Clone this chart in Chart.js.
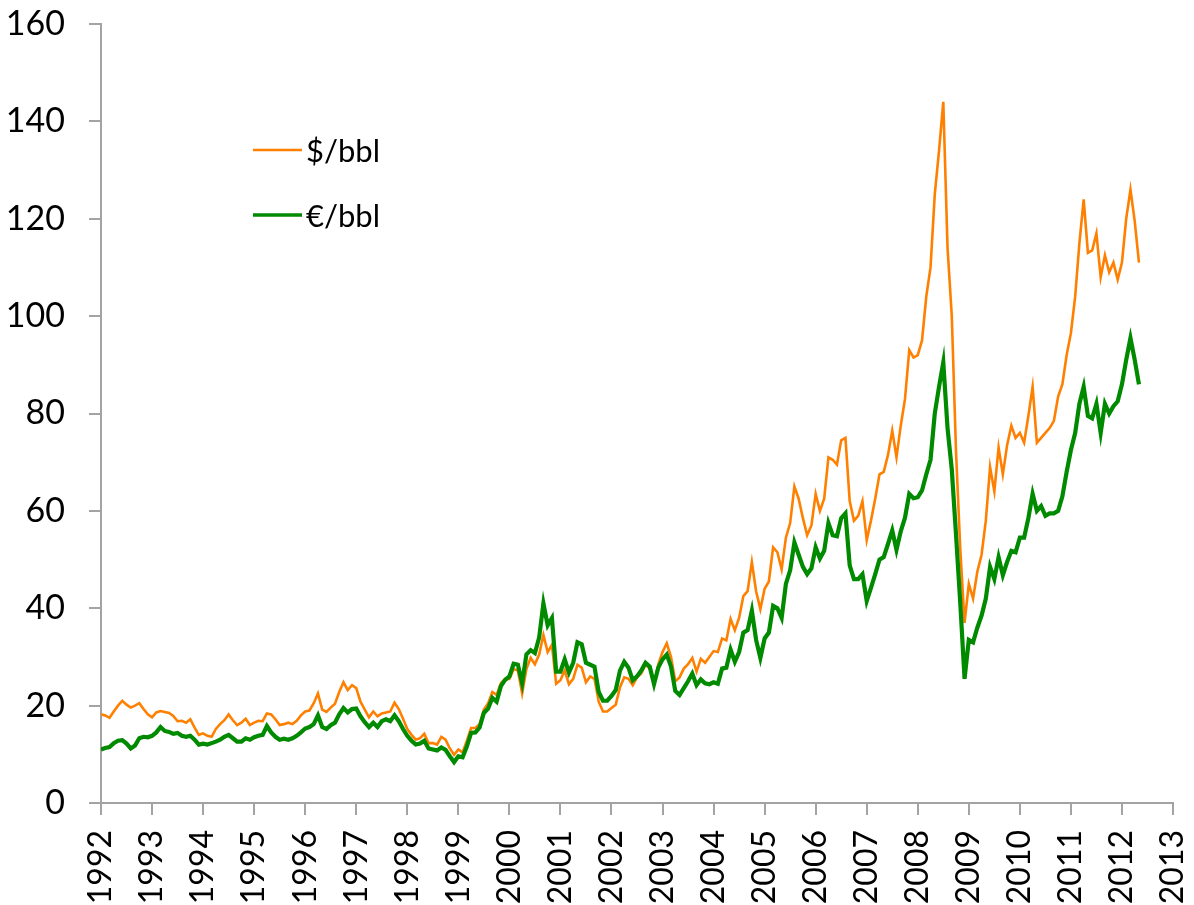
<!DOCTYPE html>
<html>
<head>
<meta charset="utf-8">
<title>Brent $/bbl and €/bbl</title>
<script src="https://cdn.jsdelivr.net/npm/chart.js@4.4.1/dist/chart.umd.min.js"></script>
<style>
  html, body { margin: 0; padding: 0; background: #fff; }
  #wrap { width: 1194px; height: 905px; position: relative; }
</style>
</head>
<body>
<div id="wrap"><canvas id="chart"></canvas></div>
<script>
// monthly readings, Jan 1992 .. May 2012
const startYear = 1992;
const yearTicks = [1992, 1993, 1994, 1995, 1996, 1997, 1998, 1999, 2000, 2001, 2002,
  2003, 2004, 2005, 2006, 2007, 2008, 2009, 2010, 2011, 2012, 2013];
const valueTicks = [0, 20, 40, 60, 80, 100, 120, 140, 160];

const usdPerBbl = [
  18.2, 18.0, 17.5, 18.8, 20.0, 21.0, 20.2, 19.6, 20.0, 20.5, 19.3, 18.2, // 1992
  17.6, 18.6, 18.9, 18.7, 18.5, 17.9, 16.8, 16.9, 16.5, 17.2, 15.5, 14.0, // 1993
  14.3, 13.8, 13.6, 15.2, 16.2, 17.0, 18.2, 17.0, 16.0, 16.5, 17.3, 16.0, // 1994
  16.5, 16.9, 16.8, 18.4, 18.2, 17.2, 16.0, 16.2, 16.5, 16.2, 16.9, 18.0, // 1995
  18.8, 19.0, 20.5, 22.5, 19.2, 18.7, 19.6, 20.4, 22.8, 24.8, 23.2, 24.2, // 1996
  23.6, 20.8, 19.2, 17.6, 18.8, 17.8, 18.4, 18.6, 18.8, 20.6, 19.3, 17.3, // 1997
  15.2, 14.0, 13.0, 13.3, 14.2, 12.3, 12.3, 12.0, 13.6, 13.0, 11.2, 9.9,  // 1998
  11.0, 10.4, 12.8, 15.4, 15.4, 16.2, 19.2, 20.5, 22.8, 22.2, 24.6, 25.5, // 1999
  25.5, 27.5, 27.2, 22.5, 27.5, 29.8, 28.5, 30.5, 34.5, 31.0, 32.5, 24.5, // 2000
  25.2, 27.2, 24.4, 25.5, 28.4, 27.8, 24.8, 26.0, 25.5, 20.8, 18.8, 18.8, // 2001
  19.5, 20.2, 23.8, 25.8, 25.5, 24.2, 25.8, 26.6, 28.4, 27.6, 24.4, 28.5, // 2002
  31.0, 32.8, 30.0, 25.0, 25.8, 27.6, 28.5, 29.8, 27.0, 29.6, 28.8, 30.0, // 2003
  31.2, 31.0, 33.8, 33.4, 37.8, 35.5, 38.0, 42.5, 43.5, 49.5, 43.5, 39.8, // 2004
  44.0, 45.5, 52.5, 51.5, 48.0, 54.5, 57.5, 65.0, 62.5, 58.5, 55.0, 57.0, // 2005
  63.5, 60.0, 62.5, 71.0, 70.5, 69.5, 74.5, 75.0, 62.0, 58.0, 59.0, 62.0, // 2006
  54.0, 58.0, 62.5, 67.5, 68.0, 71.5, 76.5, 71.0, 77.5, 83.0, 93.0, 91.5, // 2007
  92.0, 95.0, 104.0, 110.0, 125.0, 134.0, 144.0, 114.0, 100.0, 72.0, 52.0, 37.0, // 2008
  45.0, 42.0, 47.5, 51.0, 58.0, 69.0, 64.0, 73.0, 67.5, 73.5, 77.5, 75.0, // 2009
  76.0, 74.0, 79.5, 85.5, 74.0, 75.0, 76.0, 77.0, 78.5, 83.5, 86.0, 92.0, // 2010
  96.5, 104.0, 115.0, 124.0, 113.0, 113.5, 117.0, 108.0, 112.5, 109.0, 111.0, 107.5, // 2011
  111.0, 120.0, 126.0, 119.5, 111.0 // 2012
];

const eurPerBbl = [
  11.0, 11.3, 11.5, 12.3, 12.8, 12.9, 12.2, 11.2, 11.8, 13.3, 13.6, 13.5, // 1992
  13.8, 14.5, 15.6, 14.8, 14.6, 14.2, 14.4, 13.8, 13.6, 13.8, 13.0, 12.0, // 1993
  12.2, 12.0, 12.3, 12.6, 13.0, 13.6, 14.0, 13.3, 12.6, 12.6, 13.3, 13.0, // 1994
  13.5, 13.8, 14.0, 15.8, 14.5, 13.6, 13.0, 13.2, 13.0, 13.3, 13.8, 14.5, // 1995
  15.3, 15.6, 16.2, 18.0, 15.6, 15.2, 16.0, 16.5, 18.2, 19.5, 18.6, 19.3, // 1996
  19.4, 17.8, 16.6, 15.6, 16.5, 15.6, 16.8, 17.2, 16.8, 18.0, 16.8, 15.2, // 1997
  13.8, 12.8, 12.0, 12.2, 12.8, 11.2, 11.0, 10.8, 11.4, 10.9, 9.6, 8.4,   // 1998
  9.6, 9.4, 11.6, 14.4, 14.5, 15.5, 18.5, 19.4, 21.6, 20.8, 24.0, 25.3,   // 1999
  26.0, 28.6, 28.4, 24.6, 30.5, 31.4, 30.8, 34.0, 41.0, 36.5, 38.0, 27.0, // 2000
  27.0, 29.5, 26.8, 28.8, 33.0, 32.6, 28.8, 28.4, 28.0, 22.8, 21.0, 21.0, // 2001
  22.0, 23.2, 27.2, 29.0, 27.8, 25.2, 26.0, 27.2, 28.8, 28.0, 24.4, 27.8, // 2002
  29.5, 30.5, 28.0, 23.0, 22.2, 23.6, 25.0, 26.6, 24.2, 25.4, 24.6, 24.4, // 2003
  24.8, 24.5, 27.6, 27.8, 31.5, 29.0, 31.0, 35.0, 35.5, 39.5, 33.5, 29.8, // 2004
  33.8, 35.0, 40.5, 40.0, 38.0, 45.0, 47.8, 53.5, 51.0, 48.5, 47.0, 48.2, // 2005
  52.5, 50.2, 51.8, 57.5, 55.0, 54.8, 58.5, 59.5, 48.8, 46.0, 46.0, 47.0, // 2006
  41.5, 44.2, 47.0, 50.0, 50.5, 53.2, 56.0, 52.0, 55.8, 58.6, 63.5, 62.6, // 2007
  62.8, 64.2, 67.5, 70.5, 80.0, 85.5, 90.5, 77.0, 68.5, 55.0, 41.0, 25.5, // 2008
  33.5, 33.0, 36.0, 38.5, 42.0, 48.5, 46.0, 50.5, 46.8, 49.5, 51.8, 51.5, // 2009
  54.5, 54.5, 58.5, 63.5, 60.0, 61.0, 59.0, 59.5, 59.5, 60.0, 63.0, 68.0, // 2010
  72.5, 76.0, 82.0, 85.5, 79.5, 79.0, 82.0, 76.0, 82.0, 80.0, 81.5, 82.5, // 2011
  86.0, 91.0, 95.5, 91.0, 86.0 // 2012
];

const seriesLabels = ["$/bbl", "€/bbl"];
const FONT = "Lato, 'Open Sans', sans-serif";
const AXIS = "#a3a3a3";

function toPoints(values) {
  return values.map((v, i) => ({ x: startYear + i / 12, y: v }));
}

// drop the extra room Chart.js keeps for end labels, so the plot box is fixed
function noScalePadding(scale) {
  scale.paddingLeft = 0;
  scale.paddingRight = 0;
  scale.paddingTop = 0;
  scale.paddingBottom = 0;
}

// legend drawn inside the plot, upper left
const innerLegend = {
  id: "innerLegend",
  afterDatasetsDraw(chart) {
    const ctx = chart.ctx;
    const rows = [150, 215];
    ctx.save();
    ctx.font = "31px " + FONT;
    ctx.textBaseline = "middle";
    ctx.fillStyle = "#000";
    chart.data.datasets.forEach((ds, i) => {
      const y = rows[i];
      ctx.strokeStyle = ds.borderColor;
      ctx.lineWidth = Math.min(ds.borderWidth, 3.5);
      ctx.beginPath();
      ctx.moveTo(253, y);
      ctx.lineTo(302, y);
      ctx.stroke();
      ctx.fillText(ds.label, 306, y + 2);
    });
    ctx.restore();
  },
};

new Chart(document.getElementById("chart"), {
  type: "line",
  data: {
    datasets: [
      {
        label: seriesLabels[0],
        data: toPoints(usdPerBbl),
        borderColor: "#ff8000",
        borderWidth: 2.6,
        pointRadius: 0,
        tension: 0,
        order: 2,
      },
      {
        label: seriesLabels[1],
        data: toPoints(eurPerBbl),
        borderColor: "#008a00",
        borderWidth: 4.2,
        pointRadius: 0,
        tension: 0,
        order: 1,
      },
    ],
  },
  options: {
    responsive: true,
    maintainAspectRatio: false,
    animation: false,
    layout: { padding: { left: 0, right: 21, top: 24, bottom: 0 } },
    plugins: {
      legend: { display: false },
      tooltip: { enabled: false },
    },
    scales: {
      x: {
        type: "linear",
        min: yearTicks[0],
        max: yearTicks[yearTicks.length - 1],
        afterBuildTicks(scale) {
          scale.ticks = yearTicks.map((v) => ({ value: v }));
        },
        afterFit(scale) {
          scale.height = 102;
          noScalePadding(scale);
        },
        grid: {
          drawOnChartArea: false,
          drawTicks: true,
          tickLength: 12,
          color: AXIS,
          lineWidth: 2,
        },
        border: { color: AXIS, width: 2 },
        ticks: {
          autoSkip: false,
          minRotation: 90,
          maxRotation: 90,
          padding: 15,
          color: "#000",
          font: { family: FONT, size: 32 },
          callback: (v) => String(v),
        },
      },
      y: {
        min: valueTicks[0],
        max: valueTicks[valueTicks.length - 1],
        afterBuildTicks(scale) {
          scale.ticks = valueTicks.map((v) => ({ value: v }));
        },
        afterFit(scale) {
          scale.width = 101;
          noScalePadding(scale);
        },
        grid: {
          drawOnChartArea: false,
          drawTicks: true,
          tickLength: 12,
          color: AXIS,
          lineWidth: 2,
        },
        border: { color: AXIS, width: 2 },
        ticks: {
          padding: 24,
          color: "#000",
          font: { family: FONT, size: 34 },
        },
      },
    },
  },
  plugins: [innerLegend],
});
</script>
</body>
</html>
